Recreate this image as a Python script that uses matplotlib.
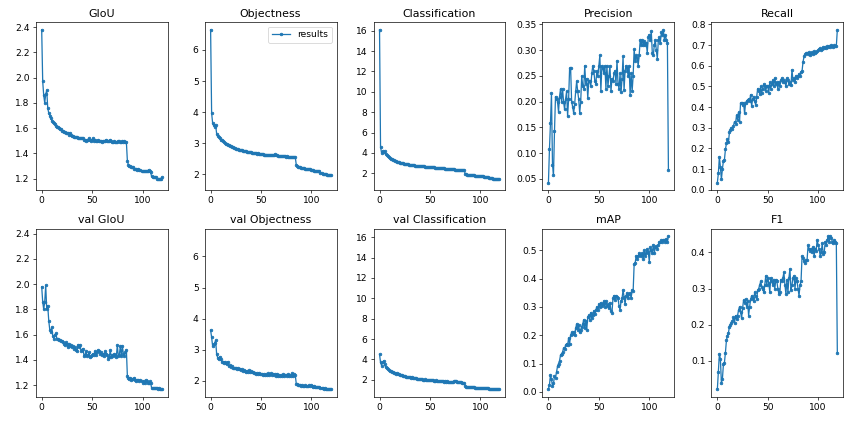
import matplotlib
matplotlib.use("Agg")
import matplotlib.pyplot as plt
import numpy as np

titles = ["GIoU", "Objectness", "Classification", "Precision", "Recall",
          "val GIoU", "val Objectness", "val Classification", "mAP", "F1"]

giou = [2.38, 1.97, 1.86, 1.80, 1.87, 1.90, 1.76, 1.72, 1.70, 1.68,
        1.66, 1.65, 1.64, 1.63, 1.62, 1.61, 1.61, 1.60, 1.59, 1.59,
        1.58, 1.58, 1.57, 1.57, 1.56, 1.56, 1.56, 1.55, 1.56, 1.55,
        1.54, 1.54, 1.53, 1.53, 1.53, 1.53, 1.52, 1.52, 1.52, 1.52,
        1.52, 1.52, 1.51, 1.51, 1.50, 1.51, 1.51, 1.52, 1.51, 1.50,
        1.51, 1.52, 1.50, 1.51, 1.50, 1.50, 1.51, 1.50, 1.50, 1.50,
        1.49, 1.50, 1.50, 1.50, 1.51, 1.50, 1.50, 1.50, 1.51, 1.50,
        1.49, 1.49, 1.50, 1.49, 1.49, 1.49, 1.50, 1.50, 1.49, 1.49,
        1.50, 1.49, 1.50, 1.49, 1.49,
        1.34, 1.31, 1.30, 1.30, 1.29,
        1.29, 1.29, 1.28, 1.28, 1.28, 1.27, 1.28, 1.27, 1.27, 1.26,
        1.26, 1.26, 1.26, 1.26, 1.26, 1.26, 1.27, 1.26, 1.25,
        1.22, 1.21, 1.21, 1.21, 1.21, 1.20, 1.20, 1.20, 1.20, 1.20, 1.21]

objectness = [6.65, 3.97, 3.65, 3.58, 3.52, 3.58, 3.30, 3.25, 3.20, 3.17,
              3.12, 3.10, 3.07, 3.05, 3.02, 2.99, 2.97, 2.95, 2.93, 2.91,
              2.90, 2.88, 2.87, 2.86, 2.85, 2.83, 2.83, 2.81, 2.80, 2.79,
              2.78, 2.77, 2.76, 2.75, 2.75, 2.74, 2.73, 2.72, 2.72, 2.71,
              2.71, 2.70, 2.70, 2.69, 2.69, 2.68, 2.67, 2.68, 2.67, 2.66,
              2.66, 2.65, 2.65, 2.64, 2.64, 2.64, 2.63, 2.63, 2.63, 2.62,
              2.62, 2.62, 2.63, 2.63, 2.65, 2.61, 2.61, 2.60, 2.60, 2.60,
              2.59, 2.59, 2.58, 2.58, 2.58, 2.57, 2.58, 2.57, 2.56, 2.56,
              2.56, 2.55, 2.56, 2.55, 2.55,
              2.30, 2.27, 2.25, 2.24, 2.23,
              2.22, 2.21, 2.20, 2.20, 2.19, 2.18, 2.18, 2.17, 2.16, 2.16,
              2.15, 2.14, 2.13, 2.12, 2.12, 2.11, 2.11, 2.10, 2.10,
              2.06, 2.03, 2.01, 2.00, 2.00, 2.00, 1.99, 1.99, 1.99, 1.98, 1.97]

classification = [16.1, 4.6, 4.0, 4.2, 4.1, 4.2, 3.9, 3.75, 3.65, 3.55,
                  3.48, 3.42, 3.36, 3.31, 3.27, 3.22, 3.18, 3.14, 3.11, 3.08,
                  3.05, 3.02, 2.99, 2.96, 2.94, 2.92, 2.90, 2.88, 2.86, 2.85,
                  2.83, 2.82, 2.80, 2.79, 2.78, 2.76, 2.75, 2.74, 2.73, 2.72,
                  2.71, 2.70, 2.69, 2.68, 2.67, 2.66, 2.65, 2.64, 2.63, 2.62,
                  2.61, 2.60, 2.59, 2.58, 2.57, 2.56, 2.55, 2.54, 2.53, 2.52,
                  2.51, 2.50, 2.49, 2.48, 2.47, 2.46, 2.45, 2.44, 2.43, 2.42,
                  2.41, 2.40, 2.39, 2.38, 2.37, 2.36, 2.35, 2.35, 2.34, 2.33,
                  2.32, 2.31, 2.30, 2.30, 2.29,
                  1.95, 1.90, 1.87, 1.85, 1.84,
                  1.83, 1.82, 1.80, 1.79, 1.78, 1.77, 1.76, 1.75, 1.74, 1.73,
                  1.72, 1.71, 1.70, 1.69, 1.68, 1.67, 1.66, 1.65, 1.64,
                  1.56, 1.52, 1.50, 1.49, 1.48, 1.48, 1.47, 1.47, 1.46, 1.46, 1.45]

precision = [0.043, 0.108, 0.158, 0.217, 0.078, 0.058, 0.143, 0.210, 0.205, 0.200,
             0.180, 0.210, 0.225, 0.200, 0.225, 0.200, 0.185, 0.205, 0.220, 0.172,
             0.205, 0.265, 0.265, 0.200, 0.190, 0.178, 0.195, 0.220, 0.240, 0.220,
             0.205, 0.178, 0.200, 0.250, 0.230, 0.225, 0.270, 0.235, 0.245, 0.207,
             0.240, 0.240, 0.230, 0.255, 0.270, 0.260, 0.240, 0.235, 0.260, 0.250,
             0.270, 0.290, 0.220, 0.270, 0.265, 0.255, 0.270, 0.225, 0.270, 0.230,
             0.250, 0.270, 0.220, 0.245, 0.240, 0.255, 0.260, 0.235, 0.280, 0.235,
             0.225, 0.255, 0.218, 0.245, 0.288, 0.222, 0.260, 0.270, 0.265, 0.250,
             0.270, 0.213, 0.255, 0.220, 0.250,
             0.302, 0.280, 0.290, 0.285, 0.270,
             0.290, 0.320, 0.310, 0.320, 0.310, 0.318, 0.310, 0.315, 0.295, 0.325,
             0.330, 0.320, 0.337, 0.295, 0.290, 0.310, 0.320, 0.300, 0.283,
             0.320, 0.325, 0.315, 0.335, 0.330, 0.340, 0.320, 0.330, 0.320, 0.315, 0.068]

recall = [0.035, 0.08, 0.16, 0.11, 0.05, 0.10, 0.14, 0.145, 0.195, 0.225,
          0.245, 0.23, 0.28, 0.29, 0.30, 0.295, 0.31, 0.33, 0.32, 0.36,
          0.34, 0.375, 0.33, 0.42, 0.42, 0.41, 0.42, 0.37, 0.42, 0.43,
          0.435, 0.44, 0.43, 0.46, 0.405, 0.44, 0.45, 0.43, 0.41, 0.45,
          0.49, 0.48, 0.465, 0.50, 0.47, 0.49, 0.51, 0.50, 0.48, 0.50,
          0.50, 0.47, 0.52, 0.49, 0.51, 0.53, 0.50, 0.54, 0.51, 0.52,
          0.49, 0.52, 0.50, 0.53, 0.54, 0.52, 0.53, 0.52, 0.50, 0.54,
          0.53, 0.51, 0.52, 0.505, 0.58, 0.53, 0.54, 0.52, 0.55, 0.54,
          0.55, 0.56, 0.55, 0.57, 0.575,
          0.62, 0.645, 0.655, 0.66, 0.66,
          0.655, 0.665, 0.65, 0.66, 0.665, 0.655, 0.67, 0.66, 0.665, 0.67,
          0.675, 0.68, 0.685, 0.675, 0.68, 0.69, 0.685, 0.69, 0.685,
          0.695, 0.69, 0.695, 0.69, 0.70, 0.695, 0.69, 0.70, 0.695, 0.695, 0.775]

val_giou = [1.98, 1.86, 1.80, 1.86, 1.99, 1.80, 1.83, 1.71, 1.64, 1.62,
            1.66, 1.59, 1.57, 1.60, 1.61, 1.57, 1.57, 1.56, 1.56, 1.55,
            1.55, 1.54, 1.53, 1.52, 1.54, 1.53, 1.50, 1.53, 1.51, 1.52,
            1.50, 1.51, 1.49, 1.50, 1.48, 1.47, 1.52, 1.50, 1.52, 1.47,
            1.48, 1.49, 1.43, 1.44, 1.47, 1.43, 1.44, 1.46, 1.42, 1.43,
            1.44, 1.45, 1.44, 1.47, 1.44, 1.46, 1.48, 1.47, 1.45, 1.46,
            1.44, 1.45, 1.43, 1.47, 1.45, 1.44, 1.41, 1.42, 1.48, 1.42,
            1.44, 1.43, 1.45, 1.44, 1.42, 1.52, 1.43, 1.44, 1.51, 1.43,
            1.51, 1.45, 1.43, 1.46, 1.48,
            1.27, 1.26, 1.25, 1.26, 1.24,
            1.25, 1.25, 1.26, 1.24, 1.23, 1.24, 1.24, 1.23, 1.24, 1.23,
            1.22, 1.23, 1.22, 1.24, 1.23, 1.22, 1.22, 1.23, 1.22,
            1.18, 1.18, 1.18, 1.18, 1.18, 1.18, 1.17, 1.18, 1.17, 1.17, 1.17]

val_objectness = [3.63, 3.40, 3.12, 3.18, 3.22, 3.30, 2.85, 2.75, 2.72, 2.78,
                  2.70, 2.62, 2.60, 2.58, 2.62, 2.57, 2.55, 2.62, 2.48, 2.50,
                  2.46, 2.48, 2.42, 2.40, 2.43, 2.40, 2.38, 2.41, 2.37, 2.38,
                  2.35, 2.37, 2.33, 2.36, 2.32, 2.30, 2.33, 2.29, 2.34, 2.30,
                  2.31, 2.28, 2.30, 2.25, 2.27, 2.22, 2.24, 2.21, 2.25, 2.22,
                  2.21, 2.23, 2.20, 2.22, 2.19, 2.22, 2.20, 2.24, 2.19, 2.21,
                  2.24, 2.20, 2.23, 2.18, 2.22, 2.17, 2.23, 2.15, 2.20, 2.17,
                  2.19, 2.16, 2.21, 2.15, 2.18, 2.20, 2.16, 2.22, 2.15, 2.19,
                  2.17, 2.24, 2.15, 2.21, 2.18,
                  1.90, 1.89, 1.88, 1.86, 1.87,
                  1.85, 1.86, 1.84, 1.85, 1.86, 1.84, 1.85, 1.83, 1.86, 1.84,
                  1.86, 1.83, 1.82, 1.84, 1.82, 1.81, 1.82, 1.80, 1.81,
                  1.77, 1.76, 1.76, 1.75, 1.76, 1.75, 1.74, 1.75, 1.74, 1.75, 1.75]

val_classification = [4.50, 3.70, 3.40, 3.70, 3.85, 3.50, 3.25, 3.15, 3.05, 2.95,
                      2.88, 2.82, 2.76, 2.72, 2.68, 2.65, 2.60, 2.62, 2.55, 2.52,
                      2.48, 2.50, 2.42, 2.40, 2.36, 2.38, 2.32, 2.30, 2.28, 2.26,
                      2.25, 2.22, 2.27, 2.20, 2.18, 2.22, 2.15, 2.12, 2.10, 2.08,
                      2.06, 2.05, 2.08, 2.02, 2.00, 2.03, 1.98, 1.99, 1.96, 1.95,
                      1.97, 1.94, 1.93, 1.95, 1.92, 1.90, 1.93, 1.89, 1.88, 1.90,
                      1.87, 1.86, 1.89, 1.84, 1.82, 1.86, 1.80, 1.85, 1.78, 1.82,
                      1.80, 1.79, 1.83, 1.78, 1.85, 1.88, 1.84, 1.82, 1.79, 1.77,
                      1.76, 1.74, 1.73, 1.72, 1.70,
                      1.35, 1.31, 1.29, 1.28, 1.27,
                      1.27, 1.26, 1.26, 1.25, 1.25, 1.24, 1.24, 1.23, 1.23, 1.22,
                      1.22, 1.21, 1.21, 1.20, 1.20, 1.19, 1.19, 1.18, 1.18,
                      1.13, 1.12, 1.12, 1.11, 1.11, 1.11, 1.10, 1.10, 1.10, 1.10, 1.09]

mAP = [0.010, 0.025, 0.060, 0.045, 0.020, 0.030, 0.055, 0.050, 0.070, 0.090,
       0.100, 0.110, 0.130, 0.135, 0.140, 0.155, 0.150, 0.165, 0.170, 0.165,
       0.190, 0.170, 0.200, 0.210, 0.205, 0.210, 0.200, 0.225, 0.240, 0.220,
       0.235, 0.210, 0.220, 0.230, 0.240, 0.255, 0.225, 0.250, 0.220, 0.265,
       0.270, 0.255, 0.280, 0.260, 0.270, 0.285, 0.275, 0.290, 0.300, 0.290,
       0.310, 0.300, 0.315, 0.305, 0.310, 0.320, 0.300, 0.320, 0.305, 0.310,
       0.295, 0.315, 0.285, 0.280, 0.330, 0.340, 0.325, 0.340, 0.335, 0.330,
       0.305, 0.290, 0.320, 0.330, 0.360, 0.335, 0.310, 0.340, 0.350, 0.330,
       0.345, 0.350, 0.330, 0.360, 0.355,
       0.450, 0.455, 0.480, 0.470, 0.480,
       0.490, 0.485, 0.480, 0.490, 0.470, 0.500, 0.480, 0.490, 0.505, 0.495,
       0.460, 0.510, 0.500, 0.490, 0.520, 0.490, 0.510, 0.515, 0.505,
       0.520, 0.530, 0.530, 0.535, 0.530, 0.535, 0.535, 0.530, 0.540, 0.530, 0.550]

f1 = [0.022, 0.070, 0.120, 0.105, 0.040, 0.050, 0.090, 0.095, 0.123, 0.157,
      0.170, 0.178, 0.195, 0.200, 0.205, 0.210, 0.220, 0.205, 0.225, 0.215,
      0.225, 0.240, 0.250, 0.235, 0.218, 0.245, 0.268, 0.260, 0.270, 0.250,
      0.265, 0.225, 0.250, 0.270, 0.280, 0.275, 0.265, 0.290, 0.280, 0.270,
      0.295, 0.300, 0.310, 0.320, 0.305, 0.300, 0.290, 0.310, 0.335, 0.310,
      0.330, 0.315, 0.290, 0.330, 0.320, 0.310, 0.325, 0.300, 0.325, 0.320,
      0.300, 0.285, 0.290, 0.325, 0.320, 0.330, 0.345, 0.310, 0.285, 0.325,
      0.290, 0.330, 0.355, 0.295, 0.310, 0.330, 0.335, 0.300, 0.330, 0.320,
      0.300, 0.280, 0.310, 0.320, 0.390,
      0.385, 0.375, 0.370, 0.380, 0.380,
      0.420, 0.410, 0.405, 0.410, 0.400, 0.415, 0.390, 0.410, 0.405, 0.435,
      0.420, 0.410, 0.390, 0.400, 0.425, 0.395, 0.400, 0.430, 0.420,
      0.435, 0.445, 0.430, 0.445, 0.440, 0.430, 0.425, 0.435, 0.430, 0.425, 0.122]

series = [giou, objectness, classification, precision, recall,
          val_giou, val_objectness, val_classification, mAP, f1]

plt.rcParams['font.size'] = 10.8
plt.rcParams['axes.titlesize'] = 12.9

dpi = 856 / 14
fig, ax = plt.subplots(2, 5, figsize=(14, 423 / dpi), dpi=dpi)
ax = ax.ravel()
for i in [5, 6, 7]:
    ax[i].sharey(ax[i - 5])

for i, (t, y) in enumerate(zip(titles, series)):
    x = np.arange(len(y))
    ax[i].plot(x, y, marker='.', label='results')
    ax[i].set_title(t)

fig.subplots_adjust(left=0.0417, right=0.9852, top=0.948, bottom=0.0622,
                    wspace=0.28, hspace=0.228)
ax[1].legend()
fig.savefig('out.png', dpi=dpi)
